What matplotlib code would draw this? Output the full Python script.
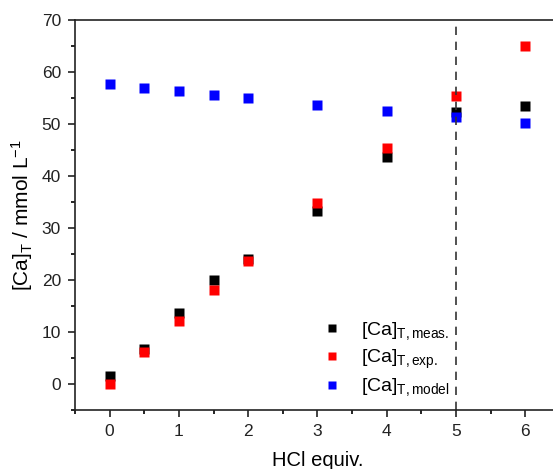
import matplotlib
matplotlib.use("Agg")
import matplotlib.pyplot as plt
from matplotlib.ticker import MultipleLocator

plt.rcParams['font.family'] = ['Liberation Sans', 'DejaVu Sans']
plt.rcParams['mathtext.fontset'] = 'custom'
plt.rcParams['mathtext.rm'] = 'Liberation Sans'
plt.rcParams['mathtext.it'] = 'Liberation Sans:italic'

hcl = [0, 0.5, 1, 1.5, 2, 3, 4, 5, 6]
ca_meas = [1.5, 6.7, 13.7, 20.0, 24.0, 33.3, 43.6, 52.2, 53.3]
ca_exp = [0.0, 6.2, 12.1, 18.0, 23.7, 34.7, 45.3, 55.3, 65.0]
ca_model = [57.6, 56.9, 56.2, 55.5, 54.9, 53.6, 52.4, 51.2, 50.1]

fig = plt.figure(figsize=(5.53, 4.69), dpi=100)
ax = fig.add_axes([0.1356, 0.1258, 0.877, 0.8326])

ms = 7.2
ax.plot(hcl, ca_meas, 's', color='black', ms=ms, mec='none', label=r'$\mathregular{[Ca]_{T,meas.}}$')
ax.plot(hcl, ca_exp, 's', color='#ff0000', ms=ms, mec='none', label=r'$\mathregular{[Ca]_{T,exp.}}$')
ax.plot(hcl, ca_model, 's', color='#0000ff', ms=ms, mec='none', label=r'$\mathregular{[Ca]_{T,model}}$')
ax.axvline(5, color='#333333', ls=(0, (5, 4)), lw=1.2)

ax.set_xlim(-0.5, 6.5)
ax.set_ylim(-5, 70)
ax.xaxis.set_major_locator(MultipleLocator(1))
ax.xaxis.set_minor_locator(MultipleLocator(0.5))
ax.yaxis.set_major_locator(MultipleLocator(10))
ax.yaxis.set_minor_locator(MultipleLocator(5))
ax.tick_params(which='major', direction='out', length=5, width=1.2, labelsize=12.5, colors='#222222', pad=5)
ax.tick_params(which='minor', direction='out', length=3, width=1.2)
for s in ax.spines.values():
    s.set_linewidth(1.2)
    s.set_color('#222222')

ax.set_xlabel('HCl equiv.', fontsize=14.5, labelpad=9)
ax.set_ylabel(r'$\mathregular{[Ca]_T}$ / mmol L$^{\mathregular{-1}}$', fontsize=15, labelpad=5)

ax.legend(loc='lower left', bbox_to_anchor=(0.473, -0.015), frameon=False, fontsize=14,
          handlelength=1.0, handletextpad=1.0, labelspacing=0.3, markerscale=0.8,
          borderpad=0.4)

fig.savefig('out.png', dpi=100)
